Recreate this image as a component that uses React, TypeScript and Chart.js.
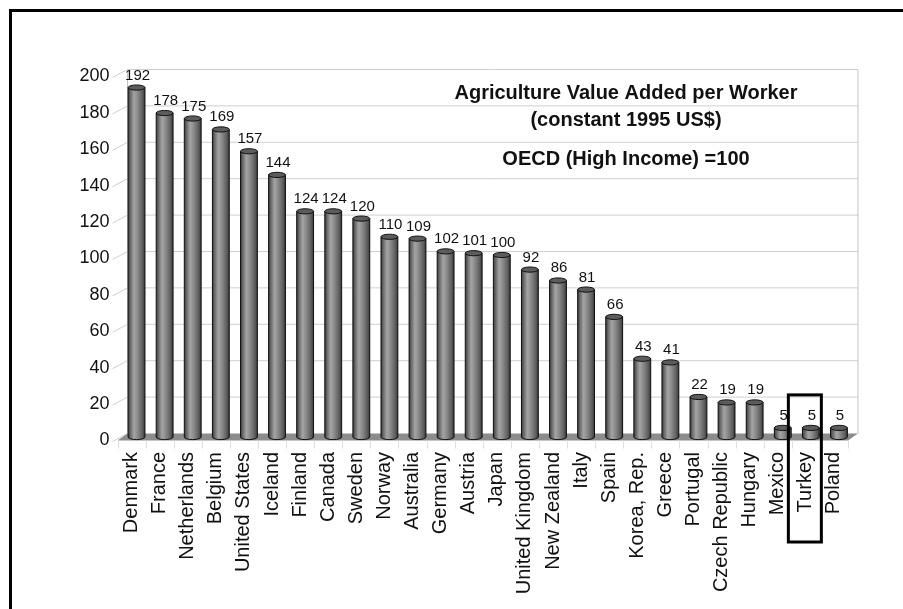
import React, { useEffect, useRef } from "react";
import { Chart, registerables } from "chart.js";

Chart.register(...registerables);

// Agriculture value added per worker, index with OECD (high income) = 100
const countries = [
  "Denmark", "France", "Netherlands", "Belgium", "United States", "Iceland",
  "Finland", "Canada", "Sweden", "Norway", "Australia", "Germany", "Austria",
  "Japan", "United Kingdom", "New Zealand", "Italy", "Spain", "Korea, Rep.",
  "Greece", "Portugal", "Czech Republic", "Hungary", "Mexico", "Turkey", "Poland",
];
const values = [
  192, 178, 175, 169, 157, 144, 124, 124, 120, 110, 109, 102, 101, 100, 92, 86,
  81, 66, 43, 41, 22, 19, 19, 5, 5, 5,
];
const yMin = 0;
const yMax = 200;
const yStep = 20;
const titleLines = ["Agriculture Value Added per Worker", "(constant 1995 US$)"];
const noteLine = "OECD (High Income) =100";
const highlighted = "Turkey";

const FONT = "'Liberation Sans', Arial, Helvetica, sans-serif";
const DX = 5; // horizontal depth offset between planes
const DY = 3.5; // vertical depth offset between planes

const depthPlugin = {
  id: "depthBox",
  beforeDatasetsDraw(chart: any) {
    const { ctx, chartArea: a, scales } = chart;
    const x = scales.x;
    const y = scales.y;
    const backL = a.left + DX;
    const backR = a.right + DX;
    const y0 = y.getPixelForValue(yMin);
    const yTop = y.getPixelForValue(yMax);
    ctx.save();
    ctx.lineWidth = 1;
    ctx.strokeStyle = "#cfcfcf";
    for (let v = yMin; v <= yMax; v += yStep) {
      const py = y.getPixelForValue(v);
      ctx.beginPath();
      ctx.moveTo(a.left - DX - 5, py + DY + 1);
      ctx.lineTo(backL, py - DY);
      if (v > yMin) ctx.lineTo(backR, py - DY);
      ctx.stroke();
    }
    ctx.strokeStyle = "#c4c4c4";
    ctx.beginPath();
    ctx.moveTo(backL, yTop - DY);
    ctx.lineTo(backL, y0 - DY);
    ctx.moveTo(backR, yTop - DY);
    ctx.lineTo(backR, y0 - DY);
    ctx.stroke();

    // floor
    ctx.fillStyle = "#8c8c8c";
    ctx.beginPath();
    ctx.moveTo(a.left - DX, y0 + DY);
    ctx.lineTo(backL, y0 - DY);
    ctx.lineTo(backR, y0 - DY);
    ctx.lineTo(a.right - DX, y0 + DY);
    ctx.closePath();
    ctx.fill();

    // category separators below the floor
    const step = x.getPixelForValue(1) - x.getPixelForValue(0);
    ctx.strokeStyle = "#dddddd";
    ctx.beginPath();
    for (let i = 0; i <= countries.length; i++) {
      const px = Math.round(x.getPixelForValue(i) - step / 2 - DX) + 0.5;
      ctx.moveTo(px, y0 + DY);
      ctx.lineTo(px, y0 + DY + 8);
    }
    ctx.stroke();
    ctx.restore();
  },
  afterDatasetsDraw(chart: any) {
    const { ctx } = chart;
    const meta = chart.getDatasetMeta(0);
    ctx.save();
    meta.data.forEach((bar: any, i: number) => {
      const { x: cx, y: top, base, width } = bar.getProps(["x", "y", "base", "width"], true);
      const w = width;
      const l = cx - w / 2;
      const r = cx + w / 2;
      const ry = 2.6;
      const g = ctx.createLinearGradient(l, 0, r, 0);
      g.addColorStop(0, "#3a3a3a");
      g.addColorStop(0.15, "#6e6e6e");
      g.addColorStop(0.35, "#a4a4a4");
      g.addColorStop(0.55, "#8c8c8c");
      g.addColorStop(0.85, "#5e5e5e");
      g.addColorStop(1, "#383838");
      // body with rounded bottom
      ctx.beginPath();
      ctx.moveTo(l, top);
      ctx.lineTo(l, base);
      ctx.ellipse(cx, base, w / 2, ry, 0, Math.PI, 0, true);
      ctx.lineTo(r, top);
      ctx.closePath();
      ctx.fillStyle = g;
      ctx.fill();
      ctx.strokeStyle = "#111";
      ctx.lineWidth = 1;
      ctx.stroke();
      // top cap
      ctx.beginPath();
      ctx.ellipse(cx, top, w / 2, ry, 0, 0, Math.PI * 2);
      ctx.fillStyle = "#5c5c5c";
      ctx.fill();
      ctx.stroke();
      // value label
      ctx.fillStyle = "#111";
      ctx.font = `15px ${FONT}`;
      ctx.textAlign = "center";
      ctx.textBaseline = "alphabetic";
      ctx.fillText(String(values[i]), cx + 1, top - 8);
    });
    ctx.restore();
  },
  afterDraw(chart: any) {
    const { ctx, scales } = chart;
    const x = scales.x;
    const y = scales.y;
    ctx.save();
    // title block
    ctx.fillStyle = "#111";
    ctx.textAlign = "center";
    ctx.textBaseline = "alphabetic";
    ctx.font = `bold 20px ${FONT}`;
    const tx = 626;
    ctx.fillText(titleLines[0], tx, 99);
    ctx.fillText(titleLines[1], tx, 126);
    ctx.fillText(noteLine, tx, 165);

    // highlight box around one category
    const hi = countries.indexOf(highlighted);
    if (hi >= 0) {
      const cx = x.getPixelForValue(hi) - 6;
      const top = y.getPixelForValue(values[hi]) - 33;
      ctx.strokeStyle = "#000";
      ctx.lineWidth = 3;
      ctx.strokeRect(cx - 16.5, top, 33, 542 - top);
    }

    // outer frame
    ctx.lineWidth = 3;
    ctx.strokeStyle = "#000";
    ctx.strokeRect(10.5, 10.5, 1200, 1200);
    ctx.restore();
  },
};

export default function App() {
  const ref = useRef<HTMLCanvasElement | null>(null);

  useEffect(() => {
    if (!ref.current) return;
    const chart = new Chart(ref.current, {
      type: "bar",
      data: {
        labels: countries,
        datasets: [
          {
            data: values,
            backgroundColor: "rgba(0,0,0,0)",
            borderWidth: 0,
            barPercentage: 0.6,
            categoryPercentage: 1,
          },
        ],
      },
      options: {
        responsive: false,
        animation: false,
        devicePixelRatio: 1,
        layout: { padding: { left: 0, right: 50, top: 73, bottom: 0 } },
        plugins: {
          legend: { display: false },
          tooltip: { enabled: false },
          title: { display: false },
        },
        scales: {
          x: {
            grid: { display: false, drawTicks: false },
            border: { display: false },
            ticks: {
              autoSkip: false,
              maxRotation: 90,
              minRotation: 90,
              padding: 15,
              labelOffset: -5,
              color: "#111",
              font: { family: FONT, size: 20 },
            },
            afterFit: (s: any) => {
              s.height = 172;
            },
          },
          y: {
            min: yMin,
            max: yMax,
            grid: { display: false, drawTicks: false },
            border: { display: false },
            ticks: {
              stepSize: yStep,
              padding: 13,
              labelOffset: DY,
              color: "#111",
              font: { family: FONT, size: 18 },
            },
            afterFit: (s: any) => {
              s.width = 122.5;
            },
          },
        },
      },
      plugins: [depthPlugin],
    });
    return () => chart.destroy();
  }, []);

  return (
    <div style={{ position: "absolute", left: 0, top: 0, width: 903, height: 609, background: "#fff" }}>
      <canvas ref={ref} width={903} height={609} style={{ width: 903, height: 609, display: "block" }} />
    </div>
  );
}
